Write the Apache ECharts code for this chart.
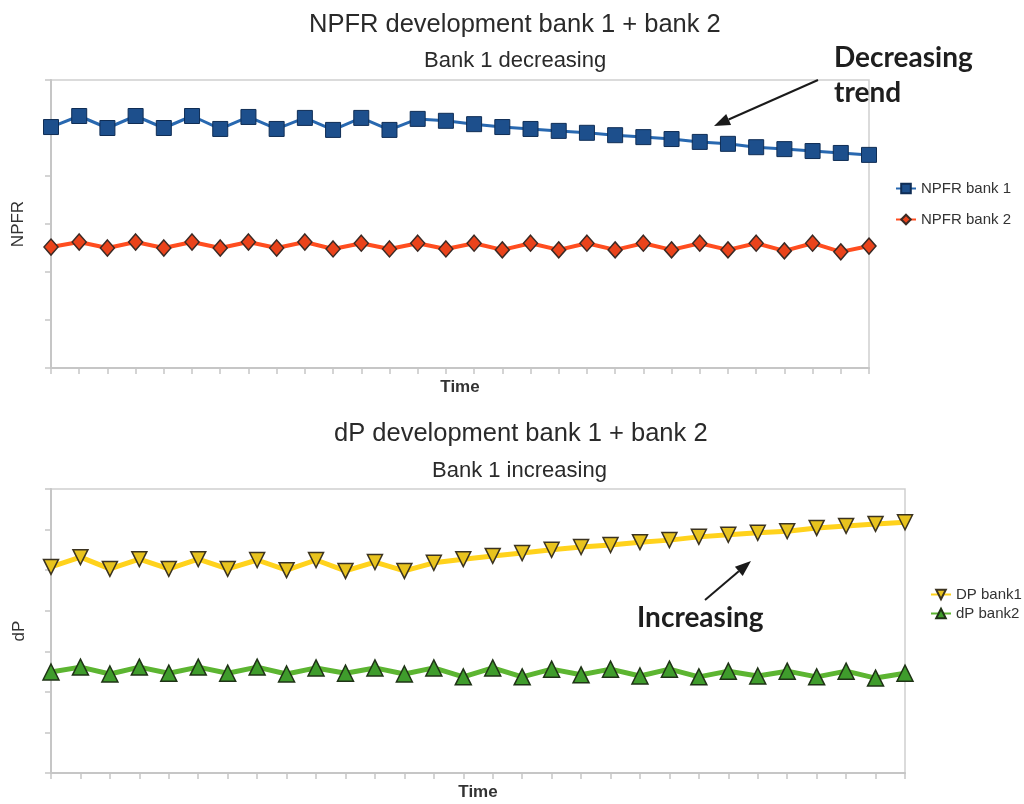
<!DOCTYPE html>
<html>
<head>
<meta charset="utf-8">
<script src="https://cdn.jsdelivr.net/npm/echarts@6.0.0/dist/echarts.min.js"></script>
<style>html,body{margin:0;padding:0;background:#fff}#c{width:1024px;height:804px}</style>
</head>
<body>
<div id="c"></div>
<script>
const timeSteps = ['1','2','3','4','5','6','7','8','9','10','11','12','13','14','15','16','17','18','19','20','21','22','23','24','25','26','27','28','29','30'];
const npfrBank1 = [50.2,52.5,50.0,52.5,50.0,52.5,49.8,52.3,49.8,52.1,49.6,52.1,49.6,51.9,51.5,50.8,50.2,49.8,49.4,49.0,48.5,48.1,47.7,47.1,46.7,46.0,45.6,45.2,44.8,44.4];
const npfrBank2 = [25.2,26.25,25.0,26.25,25.0,26.25,25.0,26.25,25.0,26.25,24.8,26.0,24.8,26.0,24.8,26.0,24.6,26.0,24.6,26.0,24.6,26.0,24.6,26.0,24.6,26.0,24.4,26.0,24.2,25.4];
const dpBank1 = [50.8,53.2,50.3,52.7,50.3,52.7,50.3,52.5,50.0,52.5,49.8,52.0,49.8,51.8,52.7,53.5,54.2,55.0,55.7,56.2,56.9,57.4,58.2,58.7,59.2,59.6,60.4,60.9,61.4,61.8];
const dpBank2 = [24.9,26.1,24.4,26.1,24.6,26.1,24.6,26.1,24.4,25.9,24.6,25.9,24.4,25.9,23.7,25.9,23.7,25.6,24.2,25.6,23.9,25.6,23.7,25.1,23.9,25.1,23.7,25.1,23.4,24.6];
const npfrTicks = [0,60,10];
const dpTicks = [0,70,10];

const chart = echarts.init(document.getElementById('c'), null, {renderer:'canvas'});
const axisGray = '#c6c6c6';

function arrow(tail, tip, headLen, headHalf) {
  const dx = tip[0]-tail[0], dy = tip[1]-tail[1];
  const L = Math.sqrt(dx*dx+dy*dy);
  const ux = dx/L, uy = dy/L;
  const bx = tip[0]-ux*headLen, by = tip[1]-uy*headLen;
  const px = -uy, py = ux;
  return [
    {type:'line', shape:{x1:tail[0],y1:tail[1],x2:bx,y2:by}, style:{stroke:'#1a1a1a', lineWidth:2}},
    {type:'polygon', shape:{points:[[tip[0],tip[1]],[bx+px*headHalf,by+py*headHalf],[bx-px*headHalf,by-py*headHalf]]}, style:{fill:'#1a1a1a'}}
  ];
}

function xAxisCfg(gridIndex){
  return {
    type:'category', gridIndex, data:timeSteps, boundaryGap:false,
    name:'Time', nameLocation:'middle', nameGap:11,
    nameTextStyle:{fontFamily:'Liberation Sans', fontSize:17, fontWeight:'bold', color:'#333'},
    axisLine:{lineStyle:{color:axisGray, width:2}},
    axisTick:{show:true, interval:0, length:6, lineStyle:{color:axisGray, width:1.5}},
    axisLabel:{show:false}, splitLine:{show:false}
  };
}
function yAxisCfg(gridIndex, name, ticks, gap){
  return {
    type:'value', gridIndex, min:ticks[0], max:ticks[1], interval:ticks[2],
    name, nameLocation:'middle', nameGap:gap, nameRotate:90,
    nameTextStyle:{fontFamily:'Liberation Sans', fontSize:17, color:'#333'},
    axisLine:{show:true, lineStyle:{color:axisGray, width:2}},
    axisTick:{show:true, length:6, lineStyle:{color:axisGray, width:1.5}},
    axisLabel:{show:false}, splitLine:{show:false}
  };
}

const titleFont = {fontFamily:'Liberation Sans', fontSize:25.5, fontWeight:'normal', color:'#2a2a2a'};
const subFont = {fontFamily:'Liberation Sans', fontSize:22, fontWeight:'normal', color:'#2a2a2a'};

const option = {
  animation:false,
  backgroundColor:'#fff',
  title:[
    {text:'NPFR development bank 1 + bank 2', left:309, top:12, padding:0, textStyle:titleFont},
    {text:'Bank 1 decreasing', left:424, top:50, padding:0, textStyle:subFont},
    {text:'dP development bank 1 + bank 2', left:334, top:421, padding:0, textStyle:titleFont},
    {text:'Bank 1 increasing', left:432, top:460, padding:0, textStyle:subFont}
  ],
  legend:[
    {orient:'vertical', left:895, top:181, padding:0, itemWidth:20, itemHeight:12, itemGap:16,
     textStyle:{fontFamily:'Liberation Sans', fontSize:15, color:'#333'},
     data:['NPFR bank 1','NPFR bank 2']},
    {orient:'vertical', left:930, top:587, padding:0, itemWidth:20, itemHeight:12, itemGap:4,
     textStyle:{fontFamily:'Liberation Sans', fontSize:15, color:'#333'},
     data:['DP bank1','dP bank2']}
  ],
  grid:[
    {left:51, right:155, top:80, bottom:436, show:true, borderColor:'#cfcfcf', borderWidth:1.5, backgroundColor:'transparent'},
    {left:51, right:119, top:489, bottom:31, show:true, borderColor:'#cfcfcf', borderWidth:1.5, backgroundColor:'transparent'}
  ],
  xAxis:[xAxisCfg(0), xAxisCfg(1)],
  yAxis:[yAxisCfg(0,'NPFR',npfrTicks,24), yAxisCfg(1,'dP',dpTicks,23)],
  series:[
    {name:'NPFR bank 1', type:'line', xAxisIndex:0, yAxisIndex:0, data:npfrBank1,
     symbol:'rect', symbolSize:15, z:4,
     lineStyle:{color:'#2868b0', width:3},
     itemStyle:{color:'#1d4f8c', borderColor:'#0f2d55', borderWidth:1}},
    {name:'NPFR bank 2', type:'line', xAxisIndex:0, yAxisIndex:0, data:npfrBank2,
     symbol:'diamond', symbolSize:[14,16], z:3,
     lineStyle:{color:'#ff4d1f', width:4},
     itemStyle:{color:'#ea431b', borderColor:'#3a2a25', borderWidth:1.5}},
    {name:'DP bank1', type:'line', xAxisIndex:1, yAxisIndex:1, data:dpBank1,
     symbol:'triangle', symbolRotate:180, symbolSize:15, z:4,
     lineStyle:{color:'#ffd21c', width:5},
     itemStyle:{color:'#e8c31e', borderColor:'#3b3320', borderWidth:1.5}},
    {name:'dP bank2', type:'line', xAxisIndex:1, yAxisIndex:1, data:dpBank2,
     symbol:'triangle', symbolSize:16, z:3,
     lineStyle:{color:'#5cb531', width:5},
     itemStyle:{color:'#3f9c2c', borderColor:'#1f3316', borderWidth:1.5}}
  ],
  graphic:[
    {type:'text', left:834, top:40, style:{text:'Decreasing\ntrend', font:'bold 28px Lato', fill:'#1e1e1e', lineHeight:35}},
    ...arrow([818,80],[714,126],16,6),
    {type:'text', left:637, top:604, style:{text:'Increasing', font:'bold 28px Lato', fill:'#1e1e1e'}},
    ...arrow([705,600],[751,561],16,6)
  ]
};
chart.setOption(option);
</script>
</body>
</html>
